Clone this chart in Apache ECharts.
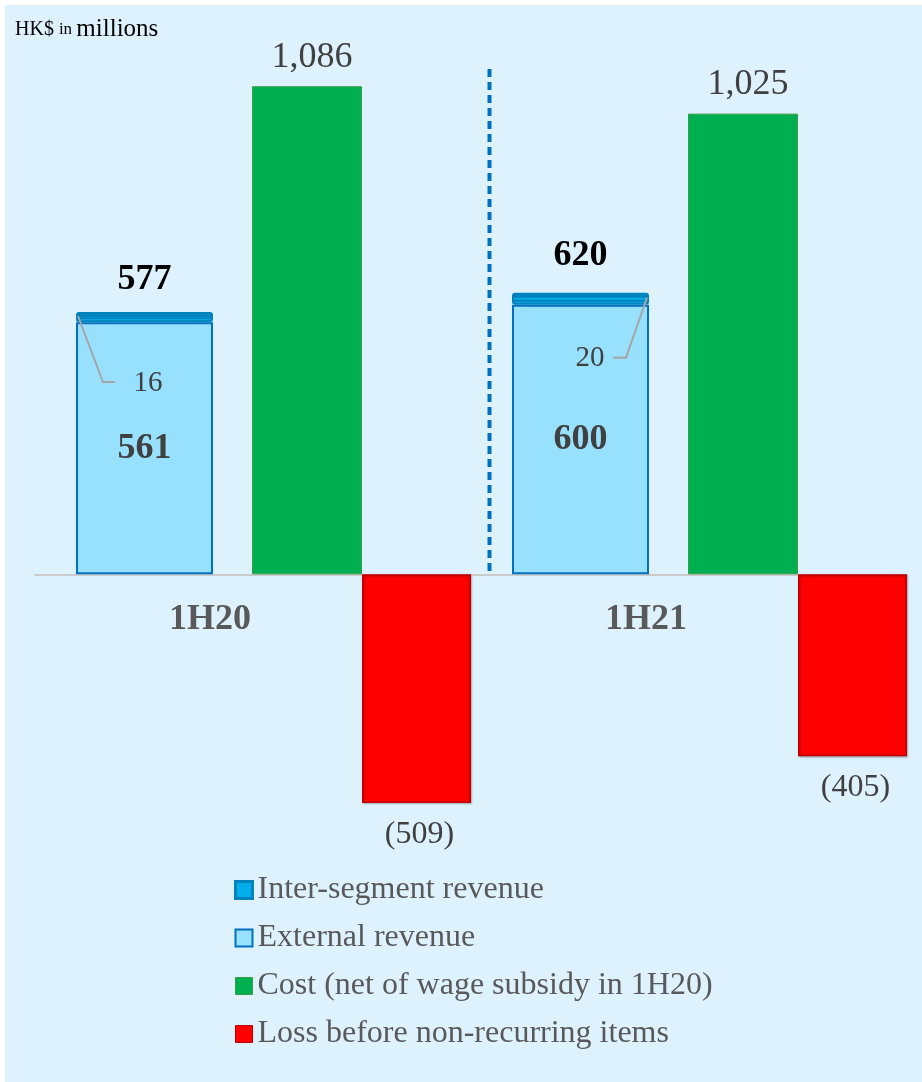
<!DOCTYPE html>
<html>
<head>
<meta charset="utf-8">
<script src="https://cdn.jsdelivr.net/npm/echarts@6/dist/echarts.min.js"></script>
<style>
    html, body { margin: 0; padding: 0; background: #ffffff; }
    #chart { position: absolute; left: 5px; top: 5px; width: 917px; height: 1077px; }
</style>
</head>
<body>
<div id="chart"></div>
<script>
const categories = ['1H20', '1H21']
const externalRevenue = [561, 600]
const interSegment = [16, 20]
const costValues = [1086, 1025]
const lossValues = [-509, -405]
const legendNames = [
    'Inter-segment revenue',
    'External revenue',
    'Cost (net of wage subsidy in 1H20)',
    'Loss before non-recurring items',
]

const totals = externalRevenue.map((v, i) => v + interSegment[i])
const serif = "'Liberation Serif', 'Times New Roman', serif"

// widths of the columns inside one band: pad, revenue, pad, cost, loss
const colW = [41, 137, 39, 110, 109]
const bandW = colW.reduce((a, b) => a + b, 0)

const yMin = -600
const yMax = 1200
const gridTop = 30
const gridH = 809
const zeroH = gridH * yMax / (yMax - yMin)

const chart = echarts.init(document.getElementById('chart'))

// empty bars used only to push the real bars into place inside each band
const spacer = (name, w) => ({
    name,
    type: 'bar',
    barWidth: w,
    barGap: '0%',
    data: categories.map(() => '-'),
    silent: true,
})

const option = {
    backgroundColor: '#def2fd',
    animation: false,
    title: {
        left: 10,
        top: 12,
        padding: 0,
        text: '{a|HK$ }{b|in }{c|millions}',
        textStyle: {
            rich: {
                a: { fontFamily: serif, fontSize: 20, fontWeight: 'normal', color: '#000' },
                b: { fontFamily: serif, fontSize: 17, fontWeight: 'normal', color: '#000' },
                c: { fontFamily: serif, fontSize: 25, fontWeight: 'normal', color: '#000' },
            },
        },
    },
    legend: {
        orient: 'vertical',
        left: 224,
        top: 864,
        itemWidth: 17,
        itemHeight: 17,
        itemGap: 16,
        icon: 'rect',
        selectedMode: false,
        textStyle: { fontFamily: serif, fontSize: 32, color: '#595959' },
        data: [
            { name: legendNames[0], itemStyle: { color: '#00aeea', borderColor: '#0082bd', borderWidth: 3 } },
            { name: legendNames[1], itemStyle: { color: '#97e0fe', borderColor: '#0070c0', borderWidth: 2 } },
            { name: legendNames[2], itemStyle: { color: '#00b050', borderColor: '#3a9a48', borderWidth: 1 } },
            { name: legendNames[3], itemStyle: { color: '#ff0000', borderColor: '#c00000', borderWidth: 1 } },
        ],
    },
    grid: [
        { left: 30, width: bandW * 2, top: gridTop, height: gridH },
        // upper half only, so the category labels sit right under the zero line
        { left: 30, width: bandW * 2, top: gridTop, height: zeroH },
    ],
    xAxis: [
        {
            type: 'category',
            gridIndex: 0,
            data: categories,
            show: false,
        },
        {
            type: 'category',
            gridIndex: 1,
            data: categories,
            axisTick: { show: false },
            axisLine: { show: true, lineStyle: { color: '#cccccc', width: 2 } },
            axisLabel: {
                margin: 27,
                padding: [0, 86, 0, 0],
                fontFamily: serif,
                fontSize: 36,
                fontWeight: 'bold',
                color: '#595959',
            },
        },
    ],
    yAxis: [
        { type: 'value', gridIndex: 0, min: yMin, max: yMax, show: false },
        { type: 'value', gridIndex: 1, min: 0, max: yMax, show: false },
    ],
    series: [
        spacer('padA', colW[0]),
        {
            name: legendNames[1],
            type: 'bar',
            stack: 'rev',
            barWidth: colW[1],
            barGap: '0%',
            data: externalRevenue,
            itemStyle: { color: '#97e0fe', borderColor: '#0070c0', borderWidth: 2 },
            label: {
                show: true,
                position: 'inside',
                fontFamily: serif,
                fontSize: 36,
                fontWeight: 'bold',
                color: '#404040',
            },
        },
        {
            name: legendNames[0],
            type: 'bar',
            stack: 'rev',
            barWidth: colW[1],
            barGap: '0%',
            z: 3,
            data: interSegment.map((v, i) => ({
                value: v,
                label: {
                    position: i === 0 ? [72, 68] : [78, 63],
                },
            })),
            itemStyle: {
                color: '#00aeea',
                borderColor: '#0082bd',
                borderWidth: 2,
                borderRadius: 2,
                shadowColor: '#0082bd',
                shadowBlur: 0,
                shadowOffsetY: -3,
            },
            label: {
                show: true,
                align: 'center',
                verticalAlign: 'middle',
                fontFamily: serif,
                fontSize: 29,
                color: '#404040',
            },
        },
        {
            name: 'total',
            type: 'bar',
            stack: 'rev',
            barWidth: colW[1],
            barGap: '0%',
            data: totals.map((t, i) => ({
                value: 0,
                label: { distance: i === 0 ? 17 : 22 },
            })),
            itemStyle: { color: 'transparent' },
            label: {
                show: true,
                position: 'top',
                formatter: (p) => totals[p.dataIndex],
                fontFamily: serif,
                fontSize: 36,
                fontWeight: 'bold',
                color: '#000000',
            },
        },
        spacer('padB', colW[2]),
        {
            name: legendNames[2],
            type: 'bar',
            barWidth: colW[3],
            barGap: '0%',
            data: costValues,
            itemStyle: { color: '#00b050', borderColor: '#3a9a48', borderWidth: 1 },
            label: {
                show: true,
                position: 'top',
                distance: 11,
                offset: [5, 0],
                formatter: (p) => p.value.toLocaleString('en-US'),
                fontFamily: serif,
                fontSize: 36,
                color: '#404040',
            },
        },
        {
            name: legendNames[3],
            type: 'bar',
            barWidth: colW[4],
            barGap: '0%',
            data: lossValues,
            itemStyle: {
                color: '#ff0000',
                borderColor: '#c00000',
                borderWidth: 1.5,
                shadowColor: 'rgba(0,0,0,0.25)',
                shadowBlur: 2,
                shadowOffsetX: 1,
                shadowOffsetY: 1,
            },
            label: {
                show: true,
                position: 'bottom',
                distance: 15,
                offset: [3, 0],
                formatter: (p) => '(' + Math.abs(p.value) + ')',
                fontFamily: serif,
                fontSize: 32,
                color: '#404040',
            },
        },
    ],
}

chart.setOption(option)

// dashed divider and leader lines, placed from the axes
const graphics = []
const zeroY = chart.convertToPixel({ yAxisIndex: 0 }, 0)
const c0 = chart.convertToPixel({ xAxisIndex: 0 }, categories[0])
const c1 = chart.convertToPixel({ xAxisIndex: 0 }, categories[1])
// between the loss bar of the first band and the revenue bar of the second
const divX = ((c0 + bandW / 2) + (c1 - bandW / 2 + colW[0])) / 2 - 2
graphics.push({
    type: 'line',
    silent: true,
    shape: { x1: divX, y1: 64, x2: divX, y2: zeroY },
    style: { stroke: '#0070c0', lineWidth: 4, lineDash: [8, 5] },
})
categories.forEach((c, i) => {
    const cx = chart.convertToPixel({ xAxisIndex: 0 }, c)
    const left = cx - bandW / 2 + colW[0]
    const right = left + colW[1]
    const top = chart.convertToPixel({ yAxisIndex: 0 }, totals[i])
    const pts = i === 0
        ? [[left + 2, top + 1], [left + 27, top + 67], [left + 39, top + 67]]
        : [[right - 2, top + 2], [right - 23, top + 62], [right - 36, top + 62]]
    graphics.push({
        type: 'polyline',
        silent: true,
        z: 10,
        shape: { points: pts },
        style: { stroke: '#a6a6a6', lineWidth: 2, fill: null },
    })
})
chart.setOption({ graphic: graphics })
</script>
</body>
</html>
